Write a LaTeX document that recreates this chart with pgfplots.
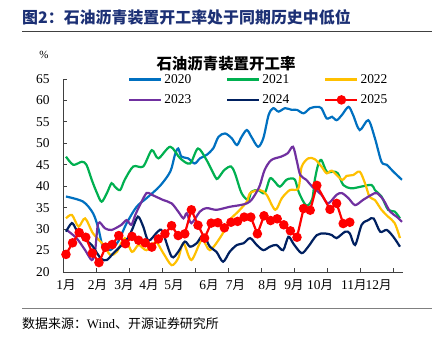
\documentclass[border=0pt]{standalone}
\usepackage{fontspec}
\setmainfont{Liberation Serif}
\newfontfamily\cjk{Noto Sans CJK SC}
\usepackage{pgfplots}
\pgfplotsset{compat=1.18}
\definecolor{c20}{HTML}{0070C0}
\definecolor{c21}{HTML}{00B050}
\definecolor{c22}{HTML}{FFC000}
\definecolor{c23}{HTML}{7030A0}
\definecolor{c24}{HTML}{002060}
\definecolor{c25}{HTML}{FF0000}
\definecolor{titleblue}{RGB}{28,48,117}
\newcommand\yue{{\cjk\fontsize{12.5}{14}\selectfont 月}}
\begin{document}
\begin{tikzpicture}
\node[anchor=west, font=\cjk\bfseries\fontsize{16}{18}\selectfont, text=titleblue, inner sep=0] at (22bp,323bp) {图2：石油沥青装置开工率处于同期历史中低位};
\draw[line width=1bp, color=black!75] (22bp,308bp) -- (432bp,308bp);
\draw[line width=1bp, color=black!50] (22bp,31bp) -- (432bp,31bp);
\node[anchor=west, font=\cjk\fontsize{13}{15}\selectfont, inner sep=0] at (22bp,16bp) {数据来源：{\rmfamily Wind}、开源证券研究所};
\node[font=\cjk\bfseries\fontsize{15.5}{18}\selectfont, inner sep=0] at (226bp,276bp) {石油沥青装置开工率};
\node[font=\fontsize{11}{13}\selectfont, inner sep=0] at (44bp,285bp) {\%};
\begin{axis}[
  at={(63bp,68bp)}, anchor=south west,
  scale only axis, width=340bp, height=193bp,
  xmin=-0.45, xmax=51.06, ymin=20, ymax=65,
  axis x line*=bottom, axis y line*=left,
  axis line style={draw=black!75, line width=0.8bp},
  tick align=inside, major tick length=4bp,
  tick style={draw=black!75, line width=0.8bp},
  xtick={-0.45,4.55,9.55,14.55,19.55,24.55,29.55,34.55,39.55,44.55,49.55},
  xticklabels={},
  extra x ticks={0,4.77,8.79,12.58,16.36,21.67,25.68,30.6,34.55,38.5,43.6,47.35},
  extra x tick labels={1\yue,2\yue,3\yue,4\yue,5\yue,6\yue,7\yue,8\yue,9\yue,10\yue,11\yue,12\yue},
  extra x tick style={major tick length=0pt, tick label style={yshift=-4bp}},
  ytick={20,25,30,35,40,45,50,55,60,65},
  yticklabel style={xshift=-10bp},
  /pgf/number format/assume math mode=true,
  every tick label/.append style={font=\fontsize{13.5}{15}\selectfont},
  legend columns=3,
  legend style={draw=none, fill=none, inner sep=0pt, at={(0.191,1.036)}, anchor=north west,
    font=\fontsize{13.5}{15}\selectfont, nodes={inner sep=2bp},
    row sep=6bp,
    /tikz/every even column/.append style={column sep=33bp}},
  legend image code/.code={\draw[mark repeat=2,mark phase=2,#1] plot coordinates {(0bp,0bp) (16bp,0bp) (32bp,0bp)};},
  every axis plot/.append style={line width=2.2bp},
]
\addplot[c20, smooth, tension=0.5] coordinates {
(0,37.6)(2.6,36.4)(4.1,33.7)(4.9,30.2)(5.6,25.9)(6.7,25.1)(7.9,27.1)(9.2,31.4)(10.7,35.2)(12.2,37.2)(14.2,40.0)(15.8,43.4)(16.5,47.3)(17.0,48.8)(17.5,46.9)(18.5,46.5)(19.5,45.3)(20.3,46.5)(21.3,47.3)(22.3,48.8)(23.1,51.5)(24.1,52.3)(25.1,51.2)(25.9,49.6)(26.6,51.5)(27.4,53.1)(28.1,51.5)(29.1,49.2)(29.9,51.2)(30.7,56.6)(31.4,58.2)(32.2,57.4)(33.2,58.2)(34.2,57.8)(35.0,57.8)(36.0,57.0)(37.0,58.2)(38.0,58.5)(38.7,58.2)(39.5,55.8)(40.3,56.2)(41.0,55.4)(41.8,56.6)(42.8,58.5)(43.5,56.6)(44.5,53.1)(45.8,55.4)(46.8,51.2)(47.8,45.7)(48.6,45.0)(49.6,43.4)(50.9,41.5)
};
\addlegendentry{2020}
\addplot[c21, smooth, tension=0.5] coordinates {
(0,46.9)(1.1,45.0)(2.4,45.7)(3.1,45.0)(3.9,41.5)(4.7,38.4)(5.4,36.4)(6.2,38.4)(6.9,40.7)(7.4,39.9)(8.2,39.1)(8.9,41.5)(10.2,44.6)(11.7,44.6)(13.0,48.4)(14.0,46.5)(15.8,49.2)(17.3,46.5)(18.8,45.3)(20.0,48.8)(21.3,46.1)(22.6,42.2)(23.0,41.8)(24.0,43.8)(25.0,44.6)(25.6,43.0)(26.6,38.4)(27.6,36.8)(28.1,38.7)(29.1,39.1)(30.1,38.4)(30.9,41.8)(31.6,41.1)(32.4,39.9)(33.4,41.5)(34.1,41.8)(34.7,41.5)(35.3,38.5)(36.4,35.5)(37.3,37.0)(37.7,41.5)(38.2,45.0)(38.7,46.1)(39.5,43.4)(40.5,43.4)(41.2,43.0)(42.0,40.3)(43.2,39.5)(44.7,39.9)(46.3,40.3)(46.8,39.1)(47.8,37.6)(48.8,34.5)(49.8,34.1)(50.6,32.5)
};
\addlegendentry{2021}
\addplot[c22, smooth, tension=0.5] coordinates {
(0,32.5)(0.9,33.3)(1.9,30.6)(2.9,32.5)(4.1,29.0)(5.7,26.3)(6.7,24.0)(7.7,24.7)(8.9,27.9)(10.0,24.7)(11.0,26.3)(12.2,25.1)(13.6,27.0)(14.7,24.5)(16.0,21.6)(17.0,23.2)(17.8,26.7)(19.0,22.8)(20.6,27.5)(21.8,25.1)(23.6,28.6)(24.8,32.1)(26.1,34.1)(27.4,36.4)(27.9,38.4)(29.4,39.1)(30.4,38.0)(31.7,34.5)(32.7,37.2)(33.9,39.1)(35.2,39.5)(35.7,44.5)(36.7,46.5)(37.7,46.3)(38.7,44.6)(39.5,43.0)(40.3,43.6)(41.8,41.5)(42.5,42.4)(43.5,42.6)(44.5,43.4)(45.3,40.7)(46.0,37.5)(46.8,36.8)(47.8,34.5)(48.8,32.9)(49.8,31.4)(50.6,27.9)
};
\addlegendentry{2022}
\addplot[c23, smooth, tension=0.5] coordinates {
(0.1,29.8)(1.6,27.9)(2.9,25.1)(3.9,22.8)(4.4,24.7)(4.9,31.4)(5.9,30.2)(6.9,29.8)(8.4,31.0)(9.2,32.1)(9.9,31.0)(10.5,33.3)(11.2,35.6)(12.2,38.4)(13.0,38.0)(14.7,36.8)(16.0,36.0)(17.0,34.1)(17.8,32.5)(18.3,33.7)(19.0,31.4)(20.3,34.1)(21.3,34.9)(22.8,34.5)(24.8,35.2)(26.4,35.6)(27.4,36.0)(28.1,36.8)(28.9,38.7)(29.4,40.3)(30.1,43.8)(31.1,46.1)(32.6,46.9)(33.6,47.7)(34.4,49.2)(35.0,45.7)(35.5,42.6)(36.4,41.5)(37.3,39.9)(38.7,38.0)(39.7,36.0)(41.0,38.0)(41.8,38.4)(42.8,37.2)(43.8,35.6)(45.0,36.8)(46.3,38.0)(47.1,38.4)(48.1,36.8)(49.1,34.1)(50.1,32.9)(50.9,31.7)
};
\addlegendentry{2023}
\addplot[c24, smooth, tension=0.5] coordinates {
(0,29.4)(0.9,31.4)(1.6,29.8)(2.6,27.9)(3.9,26.3)(4.7,24.4)(5.4,23.0)(6.2,22.8)(7.2,24.4)(8.2,25.9)(9.2,27.5)(10.0,29.8)(10.9,32.9)(11.7,30.6)(12.5,27.3)(13.9,29.4)(14.6,29.5)(16.0,23.6)(17.0,24.7)(18.0,27.1)(18.8,25.9)(19.8,26.7)(20.8,28.6)(21.8,25.9)(22.8,24.7)(23.8,22.4)(24.8,24.7)(25.9,26.3)(26.9,26.7)(27.9,27.9)(28.9,26.3)(29.9,25.1)(30.9,25.9)(31.9,26.3)(32.9,25.1)(33.7,28.2)(34.5,26.5)(35.7,24.4)(36.7,25.9)(38.0,28.6)(39.2,29.0)(40.3,28.6)(41.0,27.9)(42.3,29.4)(43.0,29.0)(43.8,26.3)(44.8,31.0)(45.8,32.1)(46.6,32.5)(47.6,29.4)(48.6,29.8)(49.6,28.2)(50.6,25.9)
};
\addlegendentry{2024}
\addplot[c25, mark=*, mark size=3.6bp, mark options={solid}] coordinates {
(0,24.1)(1,26.8)(2,29.2)(3,28.1)(4,24.4)(5,22.2)(6,25.8)(7,26.4)(8,28.5)(9,26.6)(10,28.3)(11,27.4)(12,26.8)(13,25.8)(14,27.7)(15,28.9)(16,30.8)(17,28.5)(18,28.9)(19,34.5)(20,30.9)(21,27.9)(22,31.4)(23,31.5)(24,30.3)(25,31.6)(26,31.8)(27,32.8)(28,32.8)(29,28.9)(30,33.1)(31,32.0)(32,32.4)(33,31.0)(34,29.6)(35,28.1)(36,34.8)(37,34.4)(38,40.2)(40,34.6)(41,36.0)(42,31.3)(43,31.6)
};
\addlegendentry{2025}
\end{axis}
\pgfresetboundingbox
\path (0bp,0bp) rectangle (437bp,340bp);
\end{tikzpicture}
\end{document}
